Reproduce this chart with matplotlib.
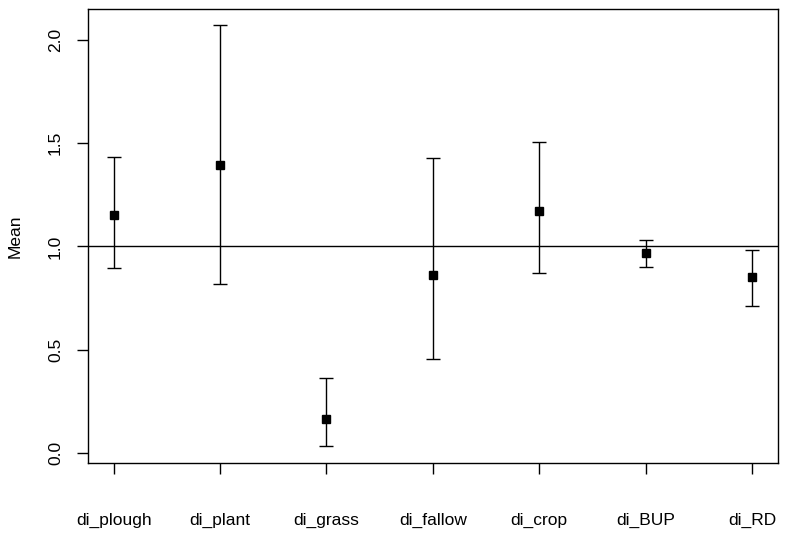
import numpy as np
import matplotlib
matplotlib.use("Agg")
import matplotlib.pyplot as plt

plt.rcParams['font.family'] = ['Liberation Sans', 'DejaVu Sans']

# values
groups = ["di_plough", "di_plant", "di_grass", "di_fallow", "di_crop", "di_BUP", "di_RD"]
means = [1.151, 1.395, 0.168, 0.863, 1.172, 0.967, 0.853]
upper = [1.434, 2.071, 0.364, 1.427, 1.505, 1.029, 0.981]
lower = [0.896, 0.819, 0.034, 0.458, 0.872, 0.900, 0.710]

x = np.arange(1, len(groups) + 1)
means = np.array(means)
err = [means - np.array(lower), np.array(upper) - means]

fig = plt.figure(figsize=(7.86, 5.38), dpi=100)
ax = fig.add_axes([0.112, 0.1394, 0.8774, 0.8439])

ax.errorbar(x, means, yerr=err, fmt='none', ecolor='black', elinewidth=1.0,
            capsize=5, capthick=1.0)
ax.plot(x, means, linestyle='none', marker='s', markersize=5.5, color='black')
ax.axhline(1.0, color='black', linewidth=1.0)

# R style padded limits
ax.set_xlim(0.76, 7.24)
ax.set_ylim(-0.047, 2.148)

ax.set_xticks(x)
ax.set_xticklabels(groups, fontsize=12.5)
ax.set_yticks([0.0, 0.5, 1.0, 1.5, 2.0])
ax.set_yticklabels(["0.0", "0.5", "1.0", "1.5", "2.0"], fontsize=12.5,
                   rotation=90, va='center')
ax.tick_params(axis='x', length=8, width=1, pad=28)
ax.tick_params(axis='y', length=8, width=1, pad=10)

ax.set_ylabel("Mean", fontsize=12.5)
ax.yaxis.set_label_coords(-0.095, 0.5)

for s in ax.spines.values():
    s.set_linewidth(1.0)
    s.set_color('black')

fig.savefig("out.png", dpi=100)
